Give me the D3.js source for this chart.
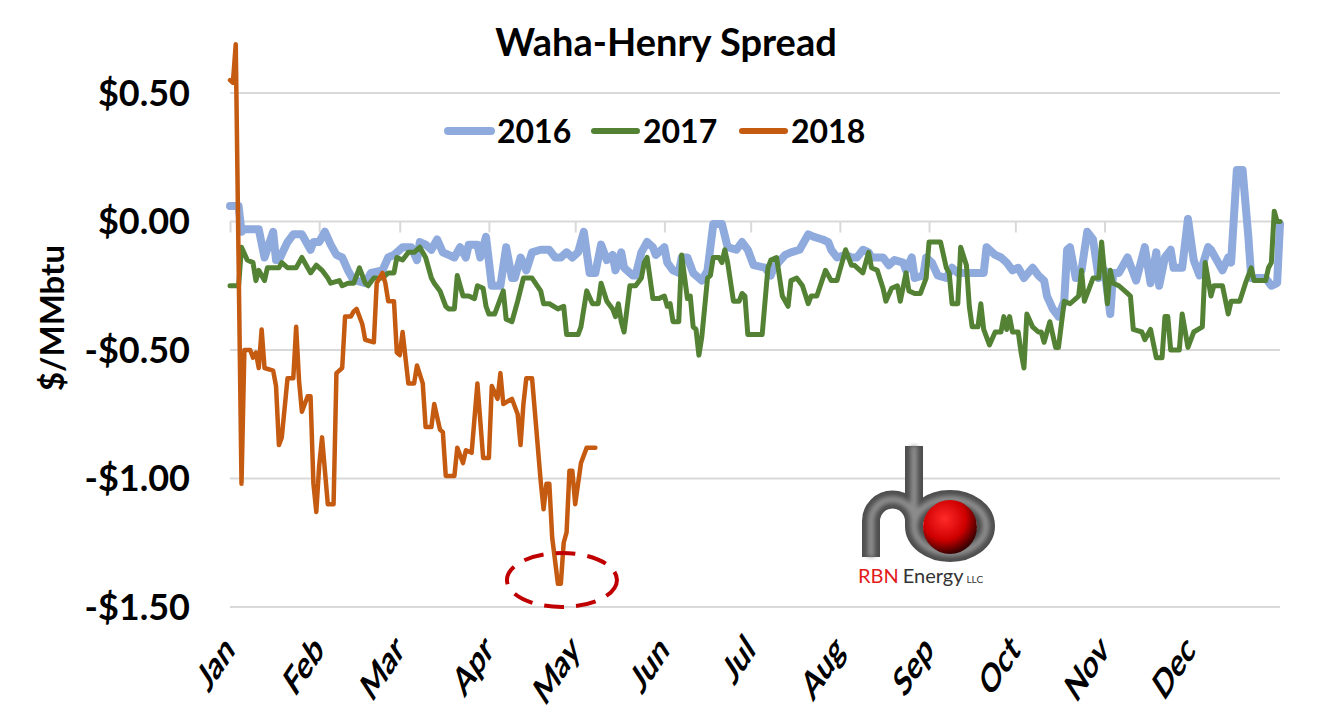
<!DOCTYPE html>
<html lang="en">
<head>
  <meta charset="UTF-8" />
  <title>Waha-Henry Spread</title>
  <script src="https://d3js.org/d3.v7.min.js"></script>
  <style>
    body { margin: 0; background: #fff; }
    text { font-family: Lato, "Open Sans", sans-serif; }
  </style>
</head>
<body>
  <svg id="chart" width="1333" height="715"></svg>

  <script>
    // month labels and first day of each month (day of year)
    const months = ["Jan", "Feb", "Mar", "Apr", "May", "Jun", "Jul", "Aug", "Sep", "Oct", "Nov", "Dec"];
    const monthStart = [0, 31, 59, 90, 120, 151, 181, 212, 243, 273, 304, 334];
    const yTicks = [0.5, 0, -0.5, -1, -1.5];
    const years = ["2016", "2017", "2018"];

    // [day of year, spread $/MMbtu]
    const s2016 = [[0,0.06],[3,0.06],[4,-0.04],[5,-0.03],[10,-0.03],[12,-0.14],[15,-0.04],[16,-0.15],[17,-0.15],[20,-0.08],
      [22,-0.05],[25,-0.05],[28,-0.11],[29,-0.08],[31,-0.08],[33,-0.04],[35,-0.09],[37,-0.13],[39,-0.14],[41,-0.19],
      [43,-0.23],[44,-0.23],[47,-0.24],[49,-0.20],[53,-0.19],[55,-0.14],[57,-0.13],[60,-0.10],[63,-0.10],[65,-0.15],
      [66,-0.08],[68,-0.09],[70,-0.11],[72,-0.07],[74,-0.12],[76,-0.13],[78,-0.14],[80,-0.10],[82,-0.14],[83,-0.09],
      [86,-0.09],[87,-0.14],[89,-0.06],[91,-0.25],[94,-0.25],[96,-0.10],[98,-0.22],[99,-0.22],[101,-0.14],[103,-0.19],
      [105,-0.12],[108,-0.11],[111,-0.11],[113,-0.14],[115,-0.14],[117,-0.12],[119,-0.14],[121,-0.12],[123,-0.04],[125,-0.20],
      [127,-0.20],[129,-0.09],[131,-0.15],[133,-0.13],[134,-0.19],[136,-0.12],[137,-0.18],[140,-0.21],[141,-0.21],[143,-0.12],
      [145,-0.08],[147,-0.10],[148,-0.13],[151,-0.10],[152,-0.16],[154,-0.19],[156,-0.20],[157,-0.14],[159,-0.14],[161,-0.20],
      [164,-0.23],[166,-0.19],[168,-0.01],[171,-0.01],[173,-0.10],[176,-0.11],[178,-0.08],[180,-0.11],[182,-0.17],[186,-0.18],
      [188,-0.21],[189,-0.18],[193,-0.13],[195,-0.12],[198,-0.11],[201,-0.05],[203,-0.06],[206,-0.07],[208,-0.08],[209,-0.11],
      [211,-0.14],[214,-0.13],[216,-0.14],[218,-0.14],[220,-0.11],[222,-0.12],[223,-0.14],[227,-0.14],[229,-0.17],[231,-0.15],
      [234,-0.16],[235,-0.19],[237,-0.14],[238,-0.22],[241,-0.21],[242,-0.14],[244,-0.16],[246,-0.21],[249,-0.22],[251,-0.18],
      [253,-0.20],[262,-0.20],[263,-0.10],[266,-0.13],[268,-0.14],[270,-0.16],[272,-0.19],[274,-0.18],[276,-0.22],[279,-0.18],
      [281,-0.21],[283,-0.23],[284,-0.29],[286,-0.34],[288,-0.37],[290,-0.31],[291,-0.11],[292,-0.10],[294,-0.22],[296,-0.19],
      [298,-0.04],[300,-0.07],[302,-0.22],[304,-0.19],[306,-0.36],[307,-0.20],[309,-0.20],[312,-0.14],[314,-0.20],[315,-0.23],
      [318,-0.10],[320,-0.24],[322,-0.12],[323,-0.25],[325,-0.14],[327,-0.11],[328,-0.18],[331,-0.18],[333,0.01],[335,-0.15],
      [337,-0.21],[340,-0.10],[341,-0.11],[343,-0.15],[345,-0.19],[347,-0.14],[348,-0.16],[350,0.20],[352,0.20],[354,-0.06],
      [355,-0.22],[358,-0.22],[360,-0.22],[362,-0.25],[364,-0.24],[365,-0.01]];

    const s2017 = [[0,-0.25],[3,-0.25],[4,-0.10],[6,-0.15],[8,-0.16],[9,-0.23],[10,-0.19],[12,-0.23],[13,-0.18],[17,-0.18],
      [18,-0.16],[20,-0.18],[23,-0.18],[25,-0.14],[28,-0.20],[30,-0.17],[32,-0.19],[34,-0.22],[35,-0.24],[38,-0.23],
      [39,-0.25],[41,-0.24],[43,-0.24],[45,-0.18],[47,-0.24],[48,-0.25],[50,-0.22],[53,-0.22],[55,-0.20],[57,-0.20],
      [58,-0.14],[60,-0.15],[62,-0.12],[64,-0.12],[66,-0.10],[68,-0.14],[70,-0.22],[71,-0.24],[73,-0.27],[75,-0.33],
      [76,-0.34],[78,-0.34],[79,-0.21],[81,-0.29],[83,-0.29],[85,-0.30],[86,-0.25],[88,-0.26],[89,-0.33],[90,-0.36],
      [92,-0.36],[95,-0.27],[96,-0.38],[98,-0.39],[100,-0.31],[102,-0.22],[105,-0.22],[108,-0.27],[109,-0.32],[111,-0.32],
      [114,-0.34],[116,-0.33],[117,-0.44],[121,-0.44],[122,-0.41],[124,-0.27],[126,-0.32],[128,-0.32],[129,-0.24],[131,-0.31],
      [133,-0.34],[134,-0.37],[135,-0.32],[136,-0.39],[137,-0.43],[139,-0.25],[141,-0.25],[143,-0.22],[144,-0.16],[145,-0.14],
      [147,-0.30],[149,-0.30],[151,-0.29],[152,-0.33],[153,-0.32],[154,-0.39],[156,-0.39],[157,-0.13],[159,-0.30],[160,-0.29],
      [161,-0.41],[162,-0.42],[163,-0.52],[164,-0.45],[166,-0.22],[167,-0.21],[168,-0.14],[170,-0.14],[171,-0.16],[172,-0.11],
      [173,-0.16],[175,-0.31],[177,-0.31],[178,-0.28],[179,-0.29],[180,-0.44],[185,-0.44],[187,-0.18],[188,-0.15],[190,-0.14],
      [192,-0.29],[194,-0.33],[195,-0.23],[197,-0.22],[199,-0.25],[201,-0.32],[202,-0.29],[204,-0.29],[207,-0.19],[209,-0.23],
      [211,-0.23],[214,-0.11],[216,-0.17],[217,-0.17],[219,-0.19],[220,-0.20],[222,-0.12],[223,-0.18],[225,-0.19],[227,-0.26],
      [228,-0.31],[230,-0.26],[232,-0.25],[233,-0.31],[235,-0.20],[236,-0.27],[238,-0.28],[240,-0.28],[242,-0.22],[243,-0.08],
      [247,-0.08],[249,-0.18],[250,-0.20],[251,-0.32],[253,-0.32],[254,-0.10],[256,-0.17],[257,-0.33],[258,-0.41],[260,-0.41],
      [261,-0.32],[262,-0.42],[264,-0.48],[266,-0.43],[268,-0.43],[269,-0.37],[270,-0.42],[271,-0.37],[272,-0.43],[274,-0.43],
      [275,-0.51],[276,-0.57],[277,-0.36],[279,-0.41],[281,-0.43],[282,-0.43],[283,-0.47],[285,-0.39],[287,-0.49],[288,-0.49],
      [290,-0.31],[292,-0.32],[295,-0.29],[296,-0.19],[297,-0.31],[300,-0.22],[302,-0.22],[303,-0.08],[305,-0.32],[306,-0.19],
      [307,-0.24],[309,-0.25],[312,-0.28],[313,-0.29],[314,-0.42],[317,-0.43],[318,-0.46],[320,-0.42],[322,-0.53],[324,-0.53],
      [325,-0.37],[326,-0.37],[327,-0.50],[330,-0.50],[331,-0.36],[333,-0.49],[335,-0.43],[338,-0.41],[339,-0.16],[341,-0.29],
      [342,-0.25],[345,-0.25],[347,-0.36],[348,-0.31],[351,-0.31],[353,-0.24],[355,-0.18],[356,-0.23],[360,-0.23],[361,-0.18],
      [362,-0.16],[363,0.04],[364,0.00],[365,0.00]];

    const s2018 = [[0,0.55],[1,0.54],[2,0.69],[4,-1.02],[5,-0.50],[7,-0.50],[8,-0.53],[9,-0.51],[10,-0.57],[11,-0.42],
      [12,-0.57],[15,-0.58],[16,-0.64],[17,-0.87],[18,-0.84],[20,-0.61],[22,-0.61],[23,-0.41],[24,-0.62],[25,-0.74],
      [27,-0.68],[28,-0.68],[29,-1.02],[30,-1.13],[31,-0.95],[32,-0.84],[34,-1.10],[36,-1.10],[37,-0.59],[39,-0.57],
      [40,-0.37],[42,-0.37],[43,-0.35],[44,-0.34],[46,-0.40],[47,-0.46],[50,-0.47],[51,-0.24],[53,-0.20],[54,-0.24],
      [55,-0.31],[57,-0.31],[58,-0.51],[59,-0.52],[60,-0.43],[62,-0.63],[64,-0.63],[65,-0.56],[67,-0.63],[68,-0.80],
      [70,-0.80],[71,-0.71],[73,-0.81],[74,-0.82],[75,-0.99],[78,-0.99],[79,-0.88],[81,-0.94],[82,-0.89],[84,-0.90],
      [86,-0.63],[88,-0.92],[90,-0.92],[91,-0.64],[93,-0.69],[94,-0.59],[95,-0.71],[98,-0.69],[100,-0.75],[101,-0.87],
      [102,-0.71],[103,-0.61],[105,-0.61],[108,-1.01],[109,-1.12],[110,-1.02],[111,-1.02],[112,-1.23],[114,-1.41],[115,-1.41],
      [116,-1.25],[117,-1.21],[118,-0.97],[119,-0.97],[120,-1.10],[122,-0.94],[123,-0.91],[124,-0.88],[127,-0.88]];

    const series = [
      { name: years[0], data: s2016, color: "#8FAADC", width: 8 },
      { name: years[1], data: s2017, color: "#548235", width: 5 },
      { name: years[2], data: s2018, color: "#C55A11", width: 4.5 }
    ];

    const svg = d3.select("#chart");
    const gridColor = "#D9D9D9";

    const x = d3.scaleLinear().domain([0, 365]).range([230, 1280]);
    const y = d3.scaleLinear().domain([-1.5, 0.5]).range([607, 93]);

    // horizontal gridlines
    svg.append("g")
      .selectAll("line")
      .data(yTicks)
      .join("line")
      .attr("x1", x(0))
      .attr("x2", x(365))
      .attr("y1", d => y(d))
      .attr("y2", d => y(d))
      .attr("stroke", gridColor)
      .attr("stroke-width", 2);

    // category axis sits on the $0.00 line, ticks hang down
    const xAxis = svg.append("g")
      .attr("transform", `translate(0, ${y(0)})`)
      .call(d3.axisBottom(x).tickValues(monthStart.concat([365])).tickSize(11).tickFormat(""));
    xAxis.select(".domain").remove();
    xAxis.selectAll(".tick line").attr("stroke", gridColor).attr("stroke-width", 2);

    // y tick labels
    const fmt = d => (d < 0 ? "-" : "") + "$" + Math.abs(d).toFixed(2);
    svg.append("g")
      .selectAll("text")
      .data(yTicks)
      .join("text")
      .attr("x", 190)
      .attr("y", d => y(d))
      .attr("dy", "0.36em")
      .attr("text-anchor", "end")
      .attr("font-size", 36)
      .attr("font-weight", "bold")
      .text(fmt);

    // month labels, slanted like the original
    svg.append("g")
      .selectAll("text")
      .data(monthStart)
      .join("text")
      .attr("transform", d => `translate(${x(d) + 6}, 652) scale(1.05, 1.6) rotate(-45)`)
      .attr("text-anchor", "end")
      .attr("font-size", 25)
      .attr("font-weight", "bold")
      .text((d, i) => months[i]);

    // axis title
    svg.append("text")
      .attr("transform", "translate(64, 318) rotate(-90)")
      .attr("text-anchor", "middle")
      .attr("font-size", 33)
      .attr("font-weight", "bold")
      .text("$/MMbtu");

    // chart title
    svg.append("text")
      .attr("x", 666)
      .attr("y", 56)
      .attr("text-anchor", "middle")
      .attr("font-size", 38)
      .attr("font-weight", "bold")
      .text("Waha-Henry Spread");

    // lines
    const line = d3.line().x(d => x(d[0])).y(d => y(d[1]));
    svg.append("g")
      .selectAll("path")
      .data(series)
      .join("path")
      .attr("d", d => line(d.data))
      .attr("fill", "none")
      .attr("stroke", d => d.color)
      .attr("stroke-width", d => d.width)
      .attr("stroke-linejoin", "round")
      .attr("stroke-linecap", "round");

    // legend
    const legendX = [448, 594, 742];
    const leg = svg.append("g")
      .selectAll("g")
      .data(series)
      .join("g")
      .attr("transform", (d, i) => `translate(${legendX[i]}, 131)`);
    leg.append("line")
      .attr("x1", 0).attr("x2", 43)
      .attr("stroke", d => d.color)
      .attr("stroke-width", d => Math.max(d.width, 6))
      .attr("stroke-linecap", "round");
    leg.append("text")
      .attr("x", 49)
      .attr("dy", "0.36em")
      .attr("font-size", 32)
      .attr("font-weight", "bold")
      .text(d => d.name);

    // dashed ellipse around the low
    svg.append("ellipse")
      .attr("cx", x(114) + 4)
      .attr("cy", 580)
      .attr("rx", 55)
      .attr("ry", 27)
      .attr("fill", "none")
      .attr("stroke", "#C00000")
      .attr("stroke-width", 4)
      .attr("stroke-dasharray", "20 12");

    // RBN Energy logo
    const defs = svg.append("defs");
    const rg = defs.append("radialGradient").attr("id", "ball").attr("cx", "0.4").attr("cy", "0.35").attr("r", "0.65");
    rg.append("stop").attr("offset", "0").attr("stop-color", "#ff2a2a");
    rg.append("stop").attr("offset", "0.6").attr("stop-color", "#d00000");
    rg.append("stop").attr("offset", "1").attr("stop-color", "#3a0000");
    defs.append("filter").attr("id", "soft").append("feGaussianBlur").attr("stdDeviation", 2);

    const logo = svg.append("g");
    const pipe = "M871,557 L871,521 A21.5,21.5 0 0,1 914,521 " +
      "M914,446 L914,526 A36,27 0 1,0 950,499 A36,27 0 0,0 914,526";
    logo.append("path").attr("d", pipe).attr("fill", "none").attr("stroke", "#4e4e4e").attr("stroke-width", 18);
    logo.append("path").attr("d", pipe).attr("fill", "none").attr("stroke", "#8c8c8c").attr("stroke-width", 7)
      .attr("filter", "url(#soft)");
    logo.append("circle").attr("cx", 950).attr("cy", 527).attr("r", 27).attr("fill", "url(#ball)");
    const lt = logo.append("text").attr("x", 858).attr("y", 583).attr("font-family", "'Noto Sans', sans-serif").attr("font-size", 20);
    lt.append("tspan").attr("fill", "#E31B1B").text("RBN");
    lt.append("tspan").attr("fill", "#333").attr("dx", 4).text("Energy");
    lt.append("tspan").attr("fill", "#333").attr("dx", 3).attr("font-size", 10).text("LLC");
  </script>
</body>
</html>
